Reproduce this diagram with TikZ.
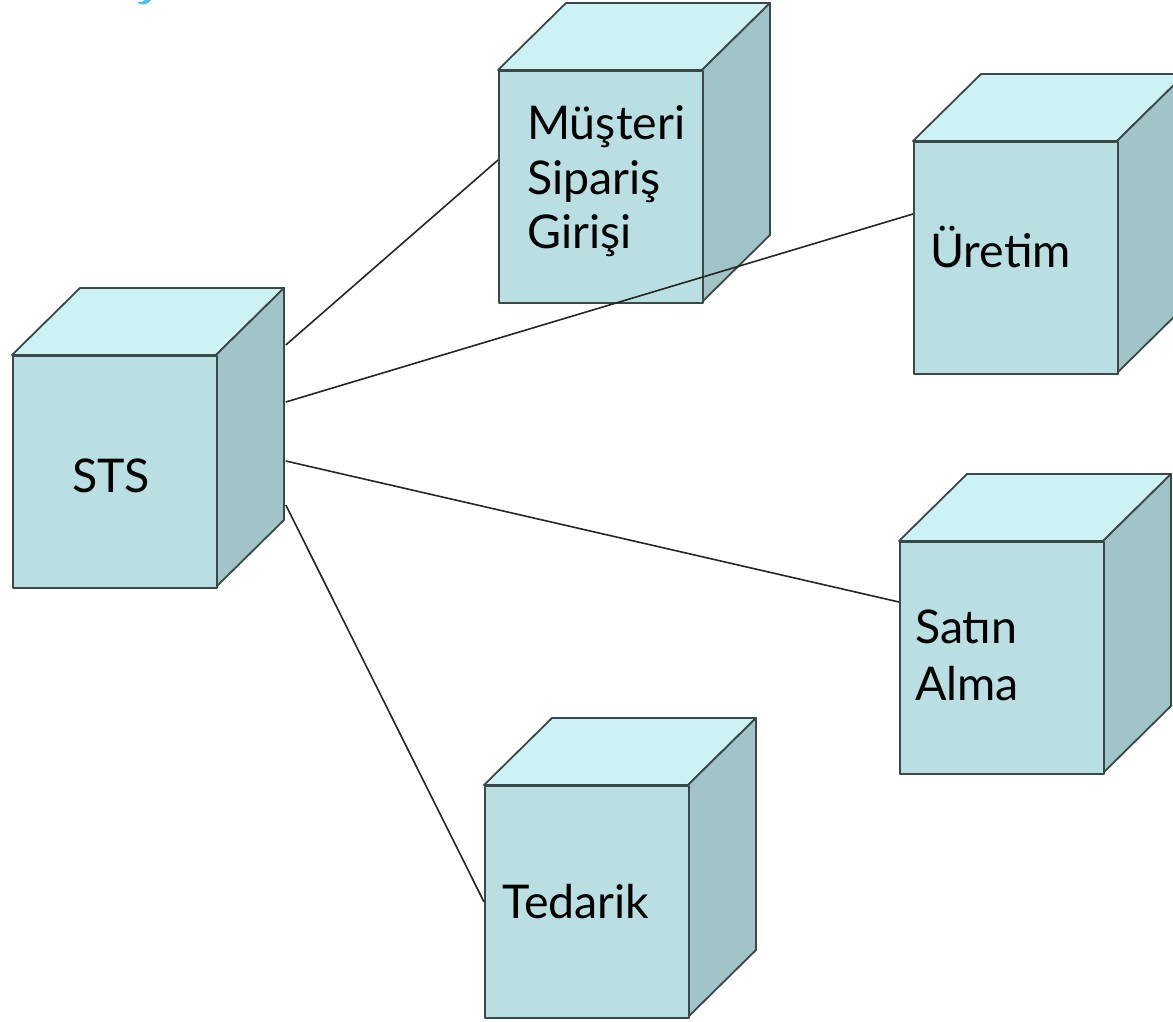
\documentclass[tikz,border=0pt]{standalone}
\usepackage{fontspec}
\setmainfont{Lato}
\usetikzlibrary{calc}
\definecolor{cfront}{RGB}{186,223,226}
\definecolor{ctop}{RGB}{204,242,244}
\definecolor{cside}{RGB}{160,196,200}
\definecolor{cedge}{RGB}{58,72,74}
\definecolor{ctitle}{RGB}{80,190,235}
\tikzset{
  face/.style={draw=cedge, line width=1.8pt, line join=round},
  frontface/.style={face, fill=cfront, minimum width=204pt, minimum height=232pt, inner sep=0pt, anchor=north west},
  label/.style={font=\fontsize{46.5}{56}\selectfont, anchor=base west, inner sep=0pt, align=left},
  link/.style={draw=black!85, line width=1.6pt}
}
\newcommand\mycube[3]{%
  \begin{scope}[shift={(#2,#3)}]
    \path[face, fill=ctop] (0,0) -- (68,-67) -- (272,-67) -- (204,0) -- cycle;
    \path[face, fill=cside] (204,0) -- (272,-67) -- (272,165) -- (204,232) -- cycle;
    \node[frontface] (#1) at (0,0) {};
  \end{scope}}
\begin{document}
\begin{tikzpicture}[x=1pt,y=-1pt]
\useasboundingbox (0,0) rectangle (1173,1022);
\fill[ctitle] (138,3) .. controls (142,5.5) and (148,5) .. (151,0) -- (145,0) .. controls (143,2) and (141,2.5) .. (138,2) -- cycle;
\mycube{sts}{12}{355}
\mycube{mus}{498}{70}
\mycube{ure}{913}{141}
\mycube{sat}{899}{541}
\mycube{ted}{484}{785}
\node[label] (lsts) at (72,492) {STS};
\node[label] (lmus1) at (527,140) {Müşteri};
\node[label] (lmus2) at (527,194) {Sipariş};
\node[label] (lmus3) at (527,248) {Girişi};
\node[label] (lure) at (930,267) {Üretim};
\node[label] (lsat1) at (915,643) {Satın};
\node[label] (lsat2) at (915,700) {Alma};
\node[label] (lted) at (502,918) {Tedarik};
\draw[link] ([shift={(68,-10)}]sts.north east) -- ([shift={(0,90)}]mus.north west);
\draw[link] ([shift={(68,47)}]sts.north east) -- ([shift={(0,73)}]ure.north west);
\draw[link] ([shift={(68,106)}]sts.north east) -- ([shift={(0,61)}]sat.north west);
\draw[link] ([shift={(68,150)}]sts.north east) -- ([shift={(0,117)}]ted.north west);
\end{tikzpicture}
\end{document}
